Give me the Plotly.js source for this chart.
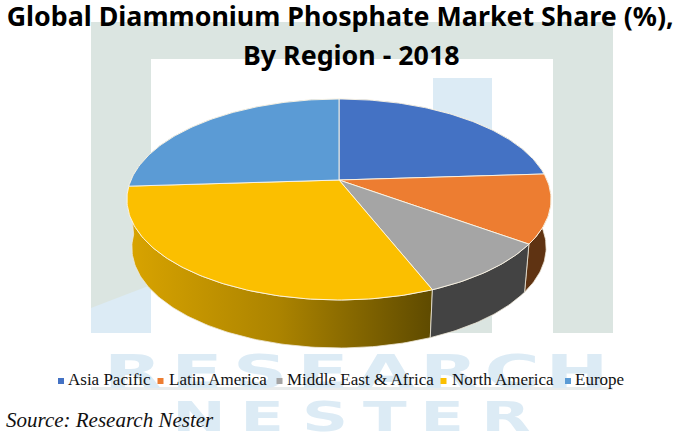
<!DOCTYPE html>
<html><head><meta charset="utf-8">
<script src="https://cdn.plot.ly/plotly-3.0.1.min.js"></script>
<style>html,body{margin:0;padding:0;background:#fff}#c{width:679px;height:437px}</style>
</head><body><div id="c"></div>
<script>
const regions = ["Asia Pacific","Latin America","Middle East & Africa","North America","Europe"];
const shares = [24,11,9,30,26];
const topColors = ["#4472C4","#ED7D31","#A5A5A5","#FBBF00","#5B9BD5"];
const wallColors = ["#2a4578","#5f3312","#434343","#8b6900","#375e82"];
const legendX = [61,160.5,279.5,443.5,568];
const legendTextX = [68,169,287,452,575];
const wmLine1 = ["R","E","S","E","A","R","C","H"];
const wmLine1X = [133,197,260,323,386,449,512,577];
const wmLine2 = ["N","E","S","T","E","R"];
const wmLine2X = [199,262,325,385,442,506];

// projected pie geometry (pixels of the full-page axes)
const CX=339, CY=180, A=96.7, K=0.194, B=208, DEPTH=48, SHRINK=0.977;
function rim(deg){const t=deg*Math.PI/180,u=Math.sin(t),v=-Math.cos(t),d=1-K*v;
  return [CX+B*u/d, CY+A*v/d];}
function arc(a0,a1){const p=[];const n=Math.max(2,Math.ceil(Math.abs(a1-a0)));
  for(let i=0;i<=n;i++)p.push(rim(a0+(a1-a0)*i/n));return p;}
const total=shares.reduce((s,v)=>s+v,0);
let acc=0;
const spans=shares.map(v=>{const s=[acc/total*360,(acc+v)/total*360];acc+=v;return s;});

const traces=[];
traces.push({type:"scatter",mode:"text",x:wmLine1X,y:wmLine1.map(()=>376),text:wmLine1,
  textposition:"middle center",textfont:{family:"DejaVu Sans",size:47,color:"#dcebf5",weight:700},hoverinfo:"skip",showlegend:false,name:"wm"});
traces.push({type:"scatter",mode:"text",x:wmLine2X,y:wmLine2.map(()=>421),text:wmLine2,
  textposition:"middle center",textfont:{family:"DejaVu Sans",size:40,color:"#dcebf5",weight:700},hoverinfo:"skip",showlegend:false,name:"wm"});

// side walls, back to front
[0,4,1,3,2].forEach(i=>{
  const top=arc(spans[i][0],spans[i][1]);
  const bot=top.slice().reverse().map(p=>[CX+SHRINK*(p[0]-CX),p[1]+DEPTH]);
  const poly=top.concat(bot,[top[0]]);
  const t={type:"scatter",mode:"lines",x:poly.map(p=>p[0]),y:poly.map(p=>p[1]),fill:"toself",
    fillcolor:wallColors[i],line:{color:"#efe9d8",width:0.8},hoverinfo:"skip",showlegend:false,name:regions[i]+" side"};
  if(i===3){t.fillgradient={type:"horizontal",colorscale:[[0,"#d9a400"],[0.5,"#ab8300"],[1,"#5e4a00"]]};}
  traces.push(t);
});
// top faces
regions.forEach((r,i)=>{
  const poly=[[CX,CY]].concat(arc(spans[i][0],spans[i][1]),[[CX,CY]]);
  traces.push({type:"scatter",mode:"lines",x:poly.map(p=>p[0]),y:poly.map(p=>p[1]),fill:"toself",
    fillcolor:topColors[i],line:{color:"#fdf6e6",width:0.9},name:r,text:r+": "+shares[i]+"%",hoverinfo:"text",showlegend:false});
});
// legend row
traces.push({type:"scatter",mode:"markers",x:legendX,y:regions.map(()=>381),
  marker:{symbol:"square",size:6,color:topColors},hoverinfo:"skip",showlegend:false,name:"legend keys"});
traces.push({type:"scatter",mode:"text",x:legendTextX,y:regions.map(()=>381),text:regions,
  textposition:"middle right",textfont:{family:"Liberation Serif",size:17,color:"#111"},
  hoverinfo:"skip",showlegend:false,name:"legend labels"});

const grey="#dbe5e1", blue="#dcebf5";
const rect=(x0,y0,x1,y1,c)=>({type:"rect",layer:"below",xref:"x",yref:"y",x0,y0,x1,y1,fillcolor:c,line:{width:0}});
const layout={width:679,height:437,margin:{l:0,r:0,t:0,b:0},paper_bgcolor:"#fff",plot_bgcolor:"rgba(0,0,0,0)",showlegend:false,
  title:{text:"Global Diammonium Phosphate Market Share (%),",x:0.501,xanchor:"center",y:0.963,yanchor:"middle",
    font:{family:"Noto Sans",size:26.8,color:"#000",weight:700}},
  xaxis:{range:[0,679],domain:[0,1],visible:false,fixedrange:true},
  yaxis:{range:[437,0],domain:[0,1],visible:false,fixedrange:true},
  shapes:[
    rect(91,22,613,59,grey),rect(91,59,151,333,grey),rect(553,59,613,333,grey),
    rect(433,78,492,300,blue),rect(433,300,492,333,grey),
    {type:"path",layer:"below",path:"M91,308 L151,285 L151,333 L91,333 Z",fillcolor:blue,line:{width:0}},
    rect(91,387,613,390,"#e9ecec")
  ],
  annotations:[
    {text:"By Region - 2018",xref:"paper",yref:"paper",x:0.518,y:1-54/437,xanchor:"center",yanchor:"middle",showarrow:false,
      font:{family:"Noto Sans",size:26.8,color:"#000",weight:700}},
    {text:"Source: Research Nester",xref:"paper",yref:"paper",x:4/679,y:1-420/437,xanchor:"left",yanchor:"middle",showarrow:false,
      font:{family:"Liberation Serif",size:21,color:"#111",style:"italic"}}
  ]};
Plotly.newPlot("c",traces,layout,{displayModeBar:false}).then(gd=>{
  gd.querySelectorAll(".scatterlayer text").forEach(t=>{
    if(t.textContent.trim().length!==1)return;
    const b=t.getBBox(),cx=b.x+b.width/2;
    t.setAttribute("transform","translate("+cx+",0) scale(1.6,1) translate("+(-cx)+",0)");
  });
});
</script></body></html>
